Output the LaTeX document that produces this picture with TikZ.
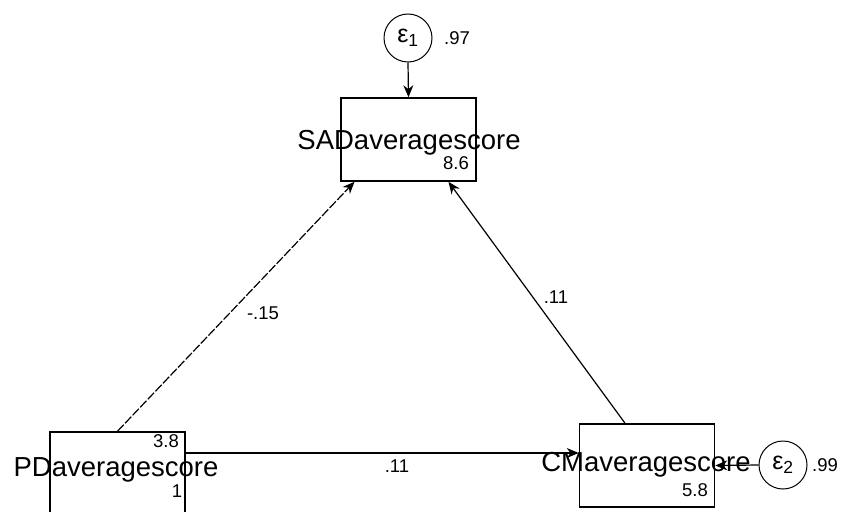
\documentclass[tikz,border=0pt]{standalone}
\usepackage{fontspec}
\setmainfont{Liberation Sans}
\usetikzlibrary{arrows.meta,calc}
\tikzset{
  box/.style={draw,line width=1.6pt,minimum width=135pt,minimum height=83pt,inner sep=0pt},
  err/.style={draw,circle,line width=1pt,minimum size=48pt,inner sep=0pt,font=\fontsize{25}{27}\selectfont},
  vname/.style={inner sep=0pt,font=\fontsize{27.5}{30}\selectfont},
  num/.style={inner sep=0pt,font=\fontsize{18.5}{20}\selectfont},
  path/.style={line width=1.2pt,-{Stealth[length=12pt,width=10pt]}},
}
\begin{document}
\begin{tikzpicture}[x=1pt,y=-1pt]
\useasboundingbox (0,0) rectangle (842,511);
% boxes
\node[box] (sad) at (408.5,139.5) {};
\node[box] (pd) at (117.5,473.5) {};
\node[box] (cm) at (647,465.5) {};
% error circles
\node[err] (e1) at (408,38) {ε\textsubscript{1}};
\node[err] (e2) at (783,465) {ε\textsubscript{2}};
% variable names
\node[vname] (sadt) at (409,143) {SADaveragescore};
\node[vname] (pdt) at (116,470) {PDaveragescore};
\node[vname] (cmt) at (646,465) {CMaveragescore};
% intercepts / variances
\node[num] (sadi) at (456,163) {8.6};
\node[num] (pdm) at (166,441) {3.8};
\node[num] (pdv) at (177,491) {1};
\node[num] (cmi) at (695,490) {5.8};
\node[num] (e1v) at (457,38) {.97};
\node[num] (e2v) at (825,465) {.99};
% paths
\draw[path] (e1.south) -- (sad.north);
\draw[path] (e2.west) -- (cm.east);
\draw[path,dash pattern=on 9pt off 2pt] (pd.north) -- ([xshift=-54pt]sad.south);
\draw[path] ([xshift=-22pt]cm.north) -- ([xshift=40pt]sad.south);
\coordinate (pdr) at ([yshift=20.5pt]pd.east);
\draw[path] (pdr) -- (pdr -| cm.west);
% coefficients
\node[num] (c1) at (263,313) {-.15};
\node[num] (c2) at (556,297) {.11};
\node[num] (c3) at (397,466) {.11};
\end{tikzpicture}
\end{document}
